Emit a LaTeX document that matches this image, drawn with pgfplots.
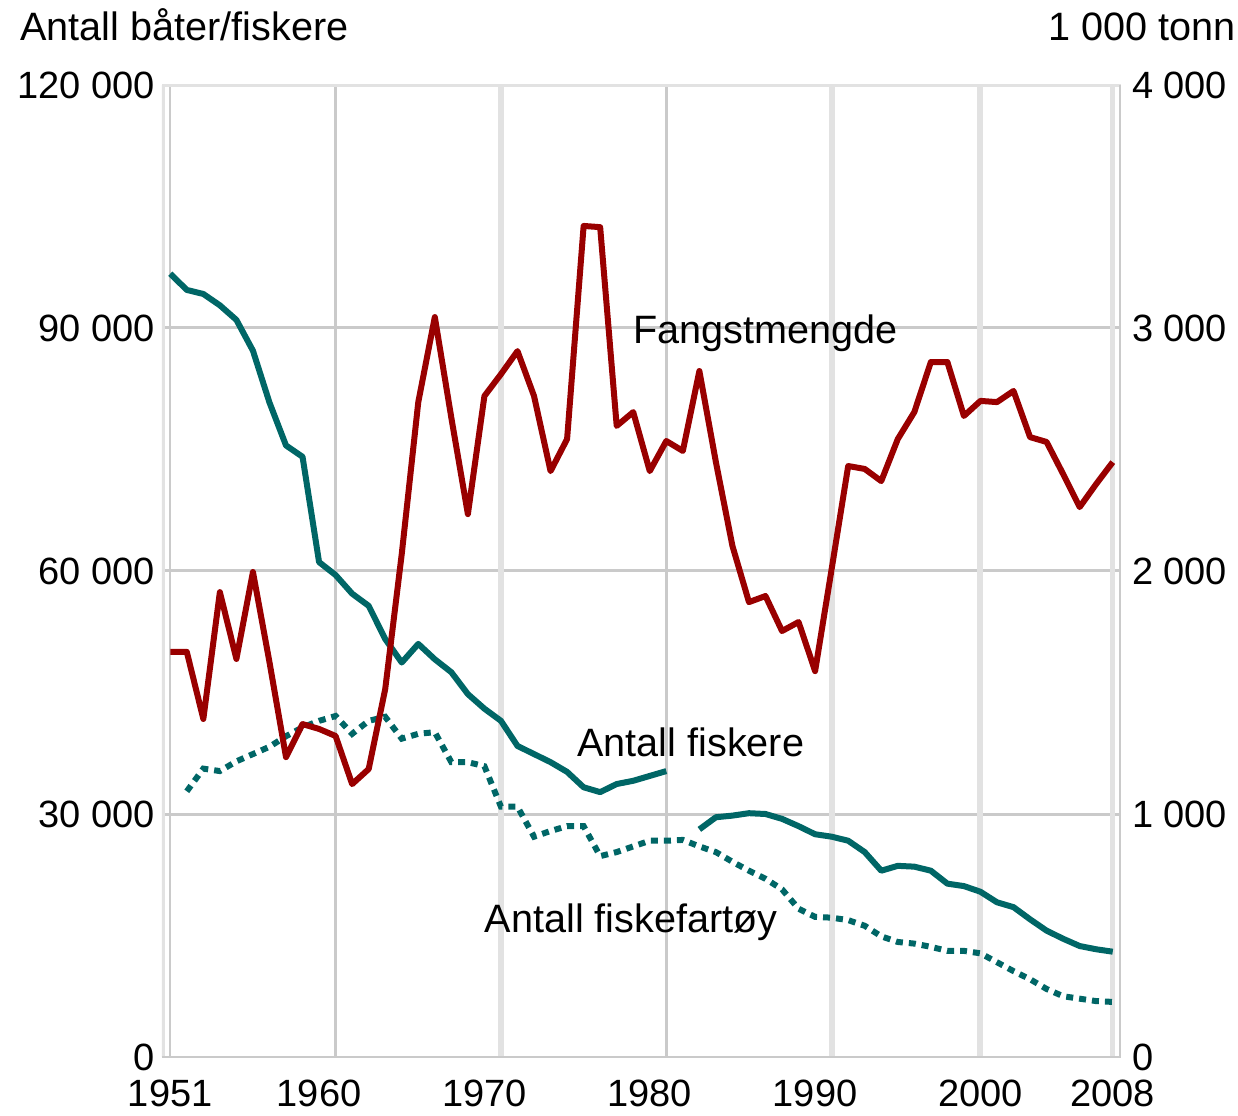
\documentclass[border=0pt]{standalone}
\usepackage{fontspec}
\setmainfont{Liberation Sans}
\usepackage{pgfplots}
\usepackage{pgfplotstable}
\pgfplotsset{compat=1.18}
\definecolor{fred}{HTML}{990000}
\definecolor{fteal}{HTML}{006666}
\definecolor{gridA}{HTML}{CACACA}
\definecolor{gridB}{HTML}{E2E2E2}

\pgfplotstableread{
year val
1951 96700
1952 94700
1953 94200
1954 92800
1955 91000
1956 87200
1957 80800
1958 75500
1959 74100
1960 61100
1961 59500
1962 57200
1963 55700
1964 51600
1965 48700
1966 51000
1967 49100
1968 47500
1969 44800
1970 43000
1971 41500
1972 38400
1973 37400
1974 36400
1975 35200
1976 33300
1977 32700
1978 33700
1979 34100
1980 34700
1981 35300
}\fiskereA

\pgfplotstableread{
year val
1983 28100
1984 29600
1985 29800
1986 30100
1987 30000
1988 29400
1989 28500
1990 27500
1991 27200
1992 26700
1993 25300
1994 23000
1995 23600
1996 23500
1997 23000
1998 21400
1999 21100
2000 20400
2001 19100
2002 18500
2003 17000
2004 15600
2005 14600
2006 13700
2007 13300
2008 13000
}\fiskereB

\pgfplotstableread{
year val
1952 32800
1953 35600
1954 35300
1955 36500
1956 37400
1957 38300
1958 39600
1959 40700
1960 41500
1961 42100
1962 39900
1963 41500
1964 42000
1965 39300
1966 39900
1967 40100
1968 36400
1969 36400
1970 35900
1971 30900
1972 30900
1973 27200
1974 27900
1975 28500
1976 28500
1977 24800
1978 25300
1979 26000
1980 26700
1981 26700
1982 26800
1983 26000
1984 25300
1985 24100
1986 23000
1987 22000
1988 20700
1989 18300
1990 17300
1991 17200
1992 16900
1993 16200
1994 14900
1995 14200
1996 14000
1997 13600
1998 13100
1999 13100
2000 12800
2001 11700
2002 10600
2003 9600
2004 8400
2005 7500
2006 7200
2007 6900
2008 6800
}\fartoy

\pgfplotstableread{
year val
1951 1667
1952 1667
1953 1391
1954 1913
1955 1638
1956 1996
1957 1625
1958 1234
1959 1370
1960 1350
1961 1321
1962 1123
1963 1185
1964 1514
1965 2070
1966 2695
1967 3045
1968 2630
1969 2234
1970 2720
1971 2810
1972 2905
1973 2720
1974 2411
1975 2543
1976 3420
1977 3415
1978 2597
1979 2654
1980 2411
1981 2535
1982 2494
1983 2823
1984 2448
1985 2103
1986 1872
1987 1897
1988 1753
1989 1790
1990 1588
1991 2008
1992 2432
1993 2420
1994 2370
1995 2543
1996 2654
1997 2860
1998 2860
1999 2638
2000 2700
2001 2695
2002 2741
2003 2551
2004 2531
2005 2399
2006 2263
2007 2358
2008 2448
}\fangst

\begin{document}
\begin{tikzpicture}[font=\fontsize{19.8}{23}\selectfont]
\pgfplotsset{
  base/.style={
    width=479.5pt, height=486pt, scale only axis,
    xmin=1950.5, xmax=2008.5, ymin=0,
    major tick length=0pt,
    scaled y ticks=false,
    tick label style={font=\fontsize{19}{22}\selectfont, text=black},
    axis line style={draw=none},
  }
}
\begin{axis}[base,
  ymax=120000,
  xtick={1951,1960,1970,1980,1990,2000,2008},
  xticklabels={1951,1960,1970,1980,1990,2000,2008},
  xticklabel style={yshift=-8pt},
  ytick={0,30000,60000,90000,120000},
  yticklabels={0,30 000,60 000,90 000,120 000},
  axis y line*=left, axis x line*=bottom,
]
% horizontal grid
\draw[gridA, line width=1.5pt] (axis cs:1950.5,30000) -- (axis cs:2008.5,30000);
\draw[gridA, line width=1.5pt] (axis cs:1950.5,60000) -- (axis cs:2008.5,60000);
\draw[gridA, line width=1.5pt] (axis cs:1950.5,90000) -- (axis cs:2008.5,90000);
% vertical grid
\draw[gridA, line width=1.2pt] (axis cs:1951,0) -- (axis cs:1951,120000);
\draw[gridA, line width=1.8pt] (axis cs:1961,0) -- (axis cs:1961,120000);
\draw[gridB, line width=3pt] (axis cs:1971,0) -- (axis cs:1971,120000);
\draw[gridA, line width=1.5pt] (axis cs:1981,0) -- (axis cs:1981,120000);
\draw[gridB, line width=3pt] (axis cs:1991,0) -- (axis cs:1991,120000);
\draw[gridB, line width=3pt] (axis cs:2000,0) -- (axis cs:2000,120000);
\draw[gridB, line width=2.5pt] (axis cs:2008,0) -- (axis cs:2008,120000);
% frame
\draw[gridB, line width=3pt] (rel axis cs:0,0) -- (rel axis cs:0,1);
\draw[gridB, line width=2pt] (rel axis cs:0,1) -- (rel axis cs:1,1);
\draw[gridA, line width=1.5pt] (rel axis cs:1,1) -- (rel axis cs:1,0);
\draw[gridA, line width=1.5pt] (rel axis cs:0,0) -- (rel axis cs:1,0);

\addplot[fteal, line width=3pt, line join=round] table[x=year,y=val] {\fiskereA};
\addplot[fteal, line width=3pt, line join=round] table[x=year,y=val] {\fiskereB};
\addplot[fteal, line width=3pt, dash pattern=on 3.5pt off 3pt] table[x=year,y=val] {\fartoy};

\node[anchor=base west, inner sep=0pt] at (axis cs:1978.98,88027) {Fangstmengde};
\node[anchor=base west, inner sep=0pt] at (axis cs:1975.6,37160) {Antall fiskere};
\node[anchor=base west, inner sep=0pt] at (axis cs:1970.0,15430) {Antall fiskefartøy};
\end{axis}

\begin{axis}[base,
  ymax=4000,
  axis x line=none,
  axis y line*=right,
  ytick={0,1000,2000,3000,4000},
  yticklabels={0,1 000,2 000,3 000,4 000},
  yticklabel style={xshift=2pt},
]
\addplot[fred, line width=3pt, line join=round] table[x=year,y=val] {\fangst};
\end{axis}

\node[anchor=base west, inner sep=0pt] at (-71pt,508pt) {Antall båter/fiskere};
\node[anchor=base east, inner sep=0pt] at (537pt,508pt) {1 000 tonn};

\pgfresetboundingbox
\useasboundingbox (-81pt,-29pt) rectangle (538pt,528.5pt);
\end{tikzpicture}
\end{document}
